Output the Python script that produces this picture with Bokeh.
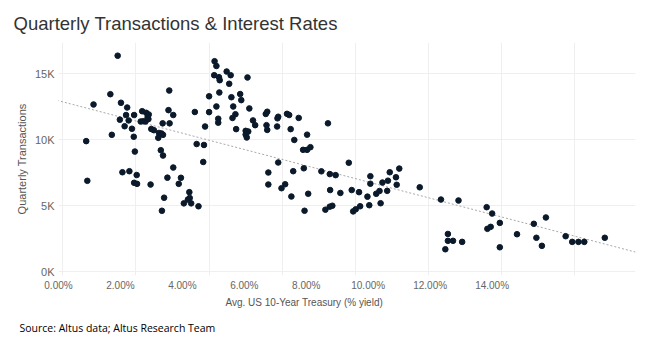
import numpy as np
from bokeh.plotting import figure
from bokeh.models import (Range1d, LinearAxis, FixedTicker, PrintfTickFormatter,
                          CustomJSTickFormatter, Title, Slope)
from bokeh.embed import file_html
from bokeh.resources import INLINE

# Avg. US 10-Year Treasury yield (%) per quarter
treasury_yield = [
    1.50, 1.30, 0.84, 1.59, 1.76, 1.73, 1.95, 1.56, 1.80, 1.69, 1.89, 1.34, 1.94, 0.64, 0.67, 1.97,
    1.63, 1.82, 2.02, 1.95, 2.03, 2.40,
    2.17, 2.28, 2.35, 2.32, 2.20, 2.13, 2.26, 2.34,
    2.42, 2.49, 2.73, 2.92, 2.89, 3.02, 3.61, 2.63, 2.70, 2.74, 2.61, 3.66, 2.68, 2.74, 3.02, 2.91,
    2.86, 3.23, 3.17, 2.77, 2.71, 3.46, 3.47, 3.42, 3.31, 3.51, 3.71,
    3.86, 3.89, 3.84, 4.00, 4.00, 4.15, 4.20, 4.14, 4.27, 4.29, 4.48, 4.59, 4.55, 4.28, 4.20, 4.61,
    4.66, 4.85, 4.88, 5.05, 5.10, 4.72, 4.64, 4.25, 4.25, 4.74, 5.20, 5.26, 5.00, 5.07, 5.00, 5.03,
    5.55, 5.59, 5.57, 5.59, 5.87, 5.89, 5.86, 6.13, 6.19, 6.45, 6.23, 6.33, 6.68, 6.57, 6.68, 6.77, 7.25,
    5.89, 5.62, 5.62, 5.98, 6.08, 6.30, 6.25, 6.59, 6.71, 6.61,
    7.07, 7.30, 7.46, 7.82, 7.31, 7.59, 7.18, 7.30, 7.37, 7.90,
    8.10, 8.33, 8.41, 8.41, 7.94, 8.01, 8.13, 8.38, 8.57, 8.66,
    8.69, 8.74, 8.89, 8.94, 9.11, 9.20, 9.13, 8.87, 9.76,
    10.34, 10.82, 10.53, 10.53, 10.67, 10.46, 10.92, 11.59, 11.74, 11.95, 11.61, 11.70, 11.95,
    12.42, 12.88, 13.21, 12.95, 13.10, 13.75, 13.93, 14.10, 14.26, 14.82,
]

# Quarterly transactions (count)
transactions = [
    16370, 13450, 12670, 12800, 12440, 11870, 11870, 11520, 11460, 11020, 10830, 10370, 10220, 9890, 6880, 9100,
    7530, 7610, 7320, 6730, 6650, 6600,
    12160, 12040, 11910, 11710, 11400, 11380, 11380, 11560,
    10810, 10720, 11240, 11240, 12240, 11870, 12100, 10510, 10470, 10370, 10140, 9670, 9200, 8800, 7890, 13730,
    7120, 7110, 6650, 5600, 4610, 6020, 5580, 5460, 5170, 5170, 4950,
    9600, 11000, 8310, 13290, 12090, 15950, 15590, 14890, 14740, 14510, 15170, 14890, 14240, 13580, 12520, 13220,
    12520, 13460, 13000, 14720, 12370, 11930, 11650, 11590, 11290, 10800, 11460, 11100, 10670, 10620, 10390, 10170,
    11950, 12120, 11100, 10740, 11620, 11740, 11000, 11960, 11870, 11650, 10800, 9980, 10380, 9230, 9230, 9430, 11240,
    8270, 7510, 6600, 6320, 6620, 7610, 5690, 7830, 5900, 4610,
    7600, 7390, 7310, 8250, 6180, 5960, 4690, 4920, 4990, 6180,
    6020, 5680, 7230, 6660, 4560, 4720, 4950, 5030, 5900, 6110,
    5180, 6750, 6890, 7530, 7150, 7810, 6580, 6120, 6390,
    5460, 5390, 2850, 2330, 2330, 1690, 2250, 4880, 4400, 3690, 3240, 3390, 1840,
    2830, 3620, 4100, 2560, 1950, 2680, 2250, 2250, 2250, 2560,
]

x_grid_ticks = [0, 2, 4, 6, 8, 10, 12, 14]
x_tick_labels_at = [0, 2, 4, 6, 8, 10, 12, 14]
y_ticks = [0, 5000, 10000, 15000]

TITLE = "Quarterly Transactions & Interest Rates"
X_TITLE = "Avg. US 10-Year Treasury (% yield)"
Y_TITLE = "Quarterly Transactions"
SOURCE = "Source: Altus data; Altus Research Team"

FONT = "Liberation Sans"

p = figure(width=658, height=357, output_backend="svg", toolbar_location=None,
           x_range=Range1d(-0.118, 15.66), y_range=Range1d(-300, 17370),
           x_axis_location=None,
           min_border_left=58, min_border_right=23, min_border_top=42, min_border_bottom=82)
p.outline_line_color = None
p.background_fill_color = "white"

# grids
p.xgrid.ticker = FixedTicker(ticks=x_grid_ticks)
p.xgrid.grid_line_color = "#efefef"
p.ygrid.grid_line_color = "#efefef"

# y axis
p.yaxis.ticker = FixedTicker(ticks=y_ticks)
p.yaxis.formatter = CustomJSTickFormatter(code="return (tick/1000).toFixed(0) + 'K';")
p.yaxis.axis_label = Y_TITLE
p.yaxis.axis_line_color = None
p.yaxis.major_tick_line_color = None
p.yaxis.minor_tick_line_color = None
p.yaxis.major_tick_out = 0
p.yaxis.major_tick_in = 0
p.yaxis.minor_tick_out = 0
p.yaxis.major_label_standoff = 4
p.yaxis.axis_label_standoff = 4
p.yaxis.major_label_text_font = FONT
p.yaxis.major_label_text_font_size = "11px"
p.yaxis.major_label_text_color = "#666666"
p.yaxis.axis_label_text_font = FONT
p.yaxis.axis_label_text_font_size = "11px"
p.yaxis.axis_label_text_font_style = "normal"
p.yaxis.axis_label_text_color = "#555555"

# x label axis
p.extra_x_ranges = {"labels": Range1d(0, 18.63)}
lab_axis = LinearAxis(x_range_name="labels", ticker=FixedTicker(ticks=x_tick_labels_at),
                      formatter=PrintfTickFormatter(format="%.2f%%"))
lab_axis.axis_line_color = None
lab_axis.major_tick_line_color = None
lab_axis.minor_tick_line_color = None
lab_axis.major_tick_out = 0
lab_axis.major_tick_in = 0
lab_axis.minor_tick_out = 0
lab_axis.major_label_standoff = 4
lab_axis.major_label_text_font = FONT
lab_axis.major_label_text_font_size = "10px"
lab_axis.major_label_text_color = "#666666"
p.add_layout(lab_axis, "below")

p.add_layout(Title(text=X_TITLE, align="left", offset=167, text_font=FONT,
                   text_font_size="10px", text_font_style="normal", text_color="#555555",
                   standoff=2), "below")
p.add_layout(Title(text=SOURCE, align="left", offset=-39, text_font="Open Sans",
                   text_font_size="10.5px", text_font_style="normal", text_color="#000000",
                   standoff=21), "below")

# title
p.title.text = TITLE
p.title.align = "left"
p.title.offset = -45
p.title.standoff = 17
p.title.text_font = FONT
p.title.text_font_size = "18.5px"
p.title.text_font_style = "normal"
p.title.text_color = "#333333"

# trend line (least squares)
m, b = np.polyfit(np.array(treasury_yield), np.array(transactions), 1)
p.add_layout(Slope(gradient=m, y_intercept=b, line_color="#a8a8a8", line_width=1,
                   line_dash="2 2", level="underlay"))

p.scatter(treasury_yield, transactions, size=5.6, color="#0b1a2b")

open("out.html", "w").write(file_html(p, INLINE))
